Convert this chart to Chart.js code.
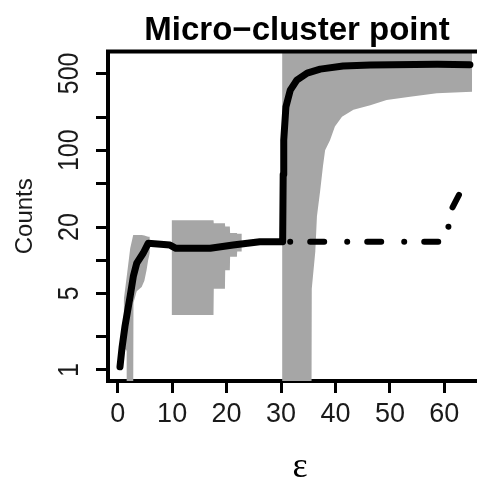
<!DOCTYPE html>
<html>
<head>
<meta charset="utf-8">
<script src="https://cdn.jsdelivr.net/npm/chart.js@4.4.1/dist/chart.umd.min.js"></script>
<style>
  body { margin: 0; background: #fff; }
</style>
</head>
<body>
<canvas id="chart" width="477" height="478"></canvas>
<script>
const titleText = 'Micro\u2212cluster point';
const xTicks = [0, 10, 20, 30, 40, 50, 60];
const yTicks = [1, 2, 5, 10, 20, 50, 100, 200, 500];
const yLabels = [1, 5, 20, 100, 500];

// solid black curve
const mainEps = [0.42, 0.8, 1.34, 1.8, 2.26, 2.87, 3.5, 4.7, 5.6, 9.6, 10.7, 17, 21.2, 26.1, 30.3,
                 30.4, 30.5, 30.9, 31.7, 32.9, 34.8, 37.2, 41.4, 46.4, 58.7, 64.7];
const mainCounts = [1.07, 1.6, 2.5, 3.4, 4.6, 7.1, 9.4, 11.6, 14.2, 13.7, 12.8, 12.8, 13.7, 14.7, 14.7,
                    60, 123, 248, 352, 435, 503, 547, 583, 595, 604, 600];

// dash-dot curve
const dashEps = [30.4, 60.3, 60.7, 61.0, 62.9, 64.1];
const dashCounts = [14.7, 14.7, 19, 27, 41, 57.5];

// grey bands (low / high)
const band1Eps = [1.1, 1.65, 1.66, 2.3, 2.85, 2.9, 3.5, 4.4, 4.9, 5.3, 5.6, 5.9];
const band1Low = [1.6, 1.5, 0.5, 0.5, 0.5, 4.1, 5.2, 5.7, 6.5, 8.1, 10, 11.6];
const band1High = [4.3, 7, 7, 12.8, 16.9, 16.9, 16.9, 16.9, 16.7, 16.5, 16.3, 16.3];

const band2Eps = [9.9, 17.6, 17.65, 19.7, 19.75, 20.6, 20.65, 21.9, 21.95, 22.8];
const band2Low = [3.17, 3.17, 5.5, 5.5, 8.1, 8.1, 10.7, 10.7, 12, 12];
const band2High = [23, 23, 21.6, 21.6, 20.2, 20.2, 17.6, 17.6, 17.4, 17.4];

const band3Eps = [30.2, 35.6, 35.65, 36.3, 36.6, 37.2, 37.7, 38.1, 39.0, 39.9, 41.2, 43.3, 46.4, 49.4, 53.7, 58.6, 65.1];
const band3Low = [0.5, 0.5, 5.5, 12, 25, 43, 71, 100, 123, 164, 202, 233, 257, 286, 307, 330, 340];
const band3High = [5000, 5000, 5000, 5000, 5000, 5000, 5000, 5000, 5000, 5000, 5000, 5000, 5000, 5000, 5000, 5000, 5000];

const grey = '#a6a6a6';
const pts = (xs, ys) => xs.map((x, i) => ({ x: x, y: ys[i] }));

function band(xs, lo, hi) {
    return [
        { data: pts(xs, lo), borderWidth: 0, pointRadius: 0, fill: false, order: 2 },
        { data: pts(xs, hi), borderWidth: 0, pointRadius: 0, fill: '-1', backgroundColor: grey, order: 2 }
    ];
}

// texte facon R : labels verticaux, titre, epsilon, cadre du haut
const rText = {
    id: 'rText',
    afterDraw(chart) {
        const { ctx, chartArea, scales } = chart;
        ctx.save();
        ctx.strokeStyle = '#000';
        ctx.lineWidth = 4;
        ctx.beginPath();
        ctx.moveTo(chartArea.left - 2, chartArea.top);
        ctx.lineTo(chartArea.right, chartArea.top);
        ctx.stroke();

        ctx.fillStyle = '#1a1a1a';
        ctx.font = '25px "Liberation Sans", Arial, sans-serif';
        ctx.textAlign = 'center';
        ctx.textBaseline = 'middle';
        yLabels.forEach(v => {
            const py = scales.y.getPixelForValue(v);
            ctx.save();
            ctx.translate(70, py);
            ctx.rotate(-Math.PI / 2);
            ctx.scale(1, 1.2);
            ctx.fillText(String(v), 0, 0);
            ctx.restore();
        });

        ctx.fillStyle = '#000';
        ctx.textBaseline = 'alphabetic';
        ctx.font = 'bold 33px "Liberation Sans", Arial, sans-serif';
        ctx.fillText(titleText, 297, 39.5);

        ctx.font = '36px "Liberation Serif", "DejaVu Serif", serif';
        ctx.fillText('\u03b5', 300, 477);
        ctx.restore();
    }
};

const axisGrid = { display: true, drawOnChartArea: false, drawTicks: true, tickLength: 12, tickWidth: 3, tickColor: '#000' };
const axisBorder = { display: true, color: '#000', width: 4 };

new Chart(document.getElementById('chart'), {
    type: 'line',
    data: {
        datasets: [
            { data: pts(mainEps, mainCounts), borderColor: '#000', borderWidth: 7, pointRadius: 0,
              borderCapStyle: 'round', borderJoinStyle: 'round', fill: false, order: 0 },
            { data: pts(dashEps, dashCounts), borderColor: '#000', borderWidth: 6, pointRadius: 0,
              borderDash: [14, 23, 0.01, 20], borderDashOffset: 30,
              borderCapStyle: 'round', borderJoinStyle: 'round', fill: false, order: 1 },
            ...band(band1Eps, band1Low, band1High),
            ...band(band2Eps, band2Low, band2High),
            ...band(band3Eps, band3Low, band3High)
        ]
    },
    options: {
        responsive: false,
        animation: false,
        devicePixelRatio: 1,
        layout: { padding: { top: 51.5, right: 0, bottom: 0, left: 0 } },
        plugins: {
            legend: { display: false },
            tooltip: { enabled: false },
            title: { display: false }
        },
        scales: {
            x: {
                type: 'linear',
                min: -1.78,
                max: 66,
                afterBuildTicks: s => { s.ticks = xTicks.map(v => ({ value: v })); },
                afterFit: s => { s.height = 97; },
                grid: axisGrid,
                border: axisBorder,
                ticks: {
                    font: { family: '"Liberation Sans", Arial, sans-serif', size: 27 },
                    color: '#1a1a1a',
                    padding: 5,
                    maxRotation: 0,
                    autoSkip: false
                }
            },
            y: {
                type: 'logarithmic',
                min: 0.794,
                max: 791,
                afterBuildTicks: s => { s.ticks = yTicks.map(v => ({ value: v })); },
                afterFit: s => { s.width = 108; },
                grid: axisGrid,
                border: axisBorder,
                ticks: { display: false },
                title: {
                    display: true,
                    text: 'Counts',
                    font: { family: '"Liberation Sans", Arial, sans-serif', size: 24 },
                    color: '#1a1a1a',
                    padding: { top: 11, bottom: 0 }
                }
            }
        }
    },
    plugins: [rText]
});
</script>
</body>
</html>
